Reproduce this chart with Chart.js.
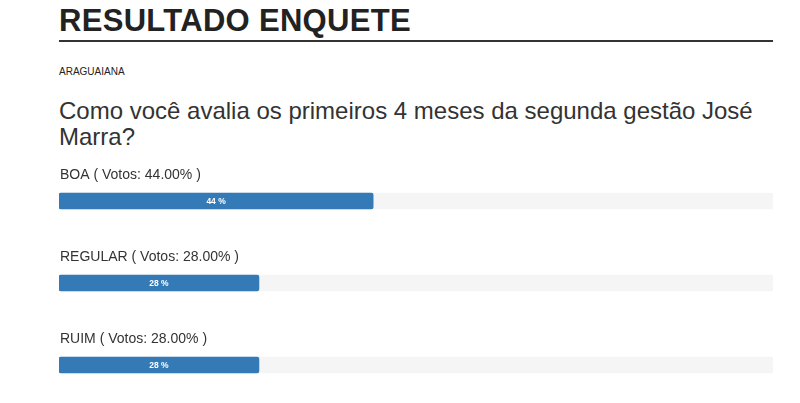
<!DOCTYPE html>
<html lang="pt-BR">
<head>
<meta charset="UTF-8">
<title>Resultado Enquete</title>
<script src="https://cdn.jsdelivr.net/npm/chart.js"></script>
<style>
  body { margin:0; background:#fff; font-family:"Liberation Sans", Arial, sans-serif; color:#333; }
  .titulo { position:absolute; left:59px; top:3px; width:714px; font-size:31px; font-weight:bold; color:#222;
            border-bottom:2px solid #333; padding-bottom:1px; letter-spacing:0.3px; }
  .cidade { position:absolute; left:59px; top:66px; font-size:10px; color:#222; }
  .pergunta { position:absolute; left:59px; top:98px; width:730px; font-size:24px; line-height:26px; color:#333; }
  #grafico { position:absolute; left:59px; top:160px; width:714px; height:246px; }
</style>
</head>
<body>
<div class="titulo">RESULTADO ENQUETE</div>
<div class="cidade">ARAGUAIANA</div>
<div class="pergunta">Como você avalia os primeiros 4 meses da segunda gestão José Marra?</div>
<div id="grafico"><canvas id="myChart"></canvas></div>

<script>
var opcoes = ['BOA', 'REGULAR', 'RUIM'];
var votos = [44, 28, 28];
var trilho = [100, 100, 100];

var rotulos = {
  id: 'rotulos',
  afterDatasetsDraw: function(chart) {
    var ctx = chart.ctx;
    var meta = chart.getDatasetMeta(0);
    ctx.save();
    meta.data.forEach(function(bar, i) {
      var topo = bar.y - bar.height / 2;
      ctx.fillStyle = '#333';
      ctx.font = '14px "Liberation Sans", Arial, sans-serif';
      ctx.textAlign = 'left';
      ctx.textBaseline = 'middle';
      ctx.fillText(opcoes[i] + ' ( Votos: ' + votos[i].toFixed(2) + '% )', 1, topo - 18);
      ctx.fillStyle = '#fff';
      ctx.font = 'bold 8.5px "Liberation Sans", Arial, sans-serif';
      ctx.textAlign = 'center';
      ctx.fillText(votos[i] + ' %', (bar.base + bar.x) / 2, bar.y + 0.5);
    });
    ctx.restore();
  }
};

new Chart(document.getElementById('myChart'), {
  type: 'bar',
  data: {
    labels: opcoes,
    datasets: [
      { data: votos, backgroundColor: '#337ab7', barThickness: 16, grouped: false, order: 0, borderRadius: 2, borderSkipped: false },
      { data: trilho, backgroundColor: '#f5f5f5', barThickness: 16, grouped: false, order: 1, borderRadius: 2, borderSkipped: false }
    ]
  },
  options: {
    indexAxis: 'y',
    responsive: true,
    maintainAspectRatio: false,
    animation: false,
    layout: { padding: 0 },
    plugins: { legend: { display: false }, tooltip: { enabled: false } },
    scales: {
      x: { display: false, min: 0, max: 100 },
      y: { display: false }
    }
  },
  plugins: [rotulos]
});
</script>
</body>
</html>
